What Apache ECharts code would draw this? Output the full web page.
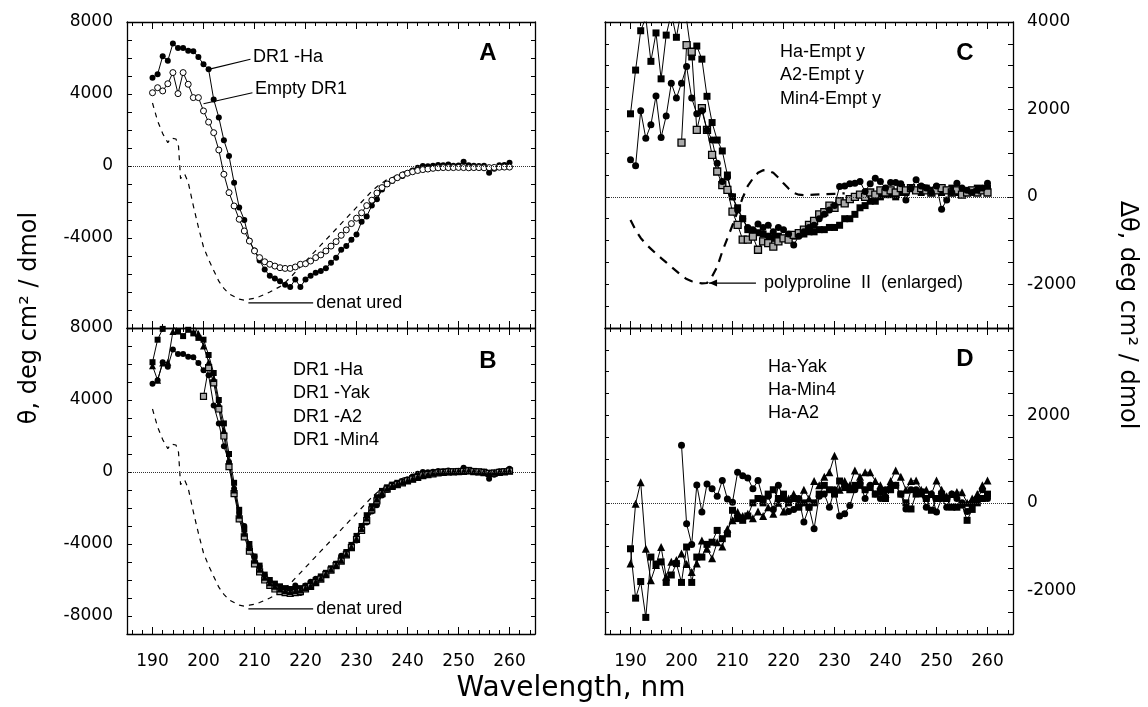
<!DOCTYPE html>
<html><head><meta charset="utf-8">
<script src="https://cdn.jsdelivr.net/npm/echarts@6/dist/echarts.min.js"></script>
<style>html,body{margin:0;padding:0;background:#fff}#c{width:1148px;height:707px}</style>
</head><body><div id="c"></div>
<script>
// ---------------- data ----------------
const wavelength = [190,191,192,193,194,195,196,197,198,199,200,201,202,203,204,205,206,207,208,209,210,211,212,213,214,215,216,217,218,219,220,221,222,223,224,225,226,227,228,229,230,231,232,233,234,235,236,237,238,239,240,241,242,243,244,245,246,247,248,249,250,251,252,253,254,255,256,257,258,259,260];
const wavelengthFrom200 = [200,201,202,203,204,205,206,207,208,209,210,211,212,213,214,215,216,217,218,219,220,221,222,223,224,225,226,227,228,229,230,231,232,233,234,235,236,237,238,239,240,241,242,243,244,245,246,247,248,249,250,251,252,253,254,255,256,257,258,259,260];

// Panel A / B (theta)
const dr1Ha = [4900,5100,6100,5850,6800,6550,6550,6400,6380,6050,5650,5370,3700,2700,1430,560,-930,-2300,-3000,-4150,-4700,-5250,-5750,-6100,-6250,-6400,-6600,-6720,-6300,-6720,-6300,-6100,-5930,-5830,-5680,-5370,-5100,-4650,-4450,-4100,-3800,-3100,-2800,-2200,-1850,-1300,-1000,-830,-650,-560,-400,-250,-100,0,-20,20,60,40,80,20,30,240,40,20,0,20,-370,-150,40,60,185];
const emptyDr1 = [4070,4350,4170,4570,5190,4020,5190,4540,3800,3800,3060,2440,1850,890,-460,-1480,-2220,-2960,-3610,-4170,-4720,-5090,-5320,-5460,-5560,-5650,-5690,-5690,-5610,-5460,-5430,-5280,-5090,-4940,-4720,-4450,-4200,-3850,-3550,-3200,-2900,-2600,-2200,-1900,-1500,-1200,-1000,-800,-650,-500,-400,-320,-250,-200,-170,-130,-100,-90,-90,-90,-80,-90,-100,-90,-90,-100,-90,-80,-70,-60,-60];
const dr1Yak = [6100,7350,7950,8300,8500,7800,7550,7900,7700,7450,7350,6500,5500,4000,2700,1000,-600,-2100,-3200,-4000,-4700,-5200,-5700,-6000,-6200,-6350,-6450,-6500,-6500,-6450,-6350,-6200,-6000,-5800,-5600,-5350,-5100,-4800,-4450,-4050,-3550,-3000,-2400,-1900,-1400,-1050,-850,-700,-600,-520,-450,-330,-220,-130,-80,-40,0,20,30,40,60,80,120,60,40,20,-60,-40,0,40,100];
const dr1A2 = [4200,5800,4950,3500,2000,300,-1200,-2600,-3600,-4400,-5100,-5550,-6000,-6300,-6500,-6650,-6700,-6750,-6700,-6650,-6500,-6350,-6150,-5950,-5700,-5450,-5200,-4950,-4600,-4200,-3750,-3250,-2700,-2100,-1600,-1200,-950,-800,-700,-600,-500,-400,-300,-200,-150,-100,-50,-20,0,10,20,40,60,20,0,-30,-80,-60,-20,10,50];
const dr1Min4 = [5900,5100,6050,6100,7800,8600,8800,8500,8200,7700,7000,6100,5200,3800,2300,600,-1000,-2400,-3400,-4200,-4900,-5400,-5850,-6150,-6350,-6500,-6600,-6650,-6600,-6550,-6450,-6300,-6100,-5900,-5650,-5400,-5150,-4900,-4550,-4150,-3700,-3150,-2550,-2000,-1500,-1150,-900,-750,-650,-560,-470,-370,-270,-170,-110,-60,-20,0,20,30,50,60,90,40,20,0,-40,-20,10,30,70];
const denaturedX = [190,191,192,193,193.6,194.6,195.1,195.5,196.3,197,198,199,200,201,202,203,204,205,206,207,208,209,210,211,212,213,214,215,216,217,218,219,220,221,222,223,224,225,226,227,228,229,230,231,232,233,234,235,236,237,238,239,240,241,242,243,244];
const denaturedY = [3500,2500,1800,1300,1550,1500,1100,-700,-450,-900,-2200,-3400,-4500,-5200,-5800,-6400,-6800,-7100,-7250,-7400,-7450,-7400,-7350,-7250,-7130,-7000,-6850,-6700,-6480,-6200,-5900,-5600,-5300,-5000,-4700,-4400,-4100,-3800,-3500,-3200,-2900,-2600,-2300,-2000,-1700,-1400,-1150,-950,-750,-650,-500,-350,-250,-150,-80,-30,0];

// Panel C / D (delta theta)
const haEmpty = [1900,2900,3800,4100,3100,3750,2700,3700,4200,3650,4300,4050,3200,3450,3150,2300,1700,1300,1050,500,0,-250,-500,-750,-800,-820,-850,-900,-950,-900,-950,-900,-900,-850,-850,-800,-800,-750,-750,-700,-700,-650,-500,-500,-400,-250,-200,-100,-100,0,50,50,0,100,100,200,150,100,200,150,200,100,150,200,100,150,100,150,200,150,200];
const min4Empty = [850,710,1970,1340,1650,2310,1360,1850,2600,2260,2600,2980,2260,1900,1970,1530,1300,770,350,450,0,-300,-500,-700,-750,-620,-700,-650,-800,-700,-750,-850,-1100,-900,-800,-700,-650,-500,-400,-300,-200,235,250,300,313,350,121,300,427,350,200,330,327,300,-70,200,389,250,200,100,250,-282,-70,100,313,200,150,100,150,200,313];
const a2Empty = [1240,3470,3320,1530,2030,1530,960,580,270,160,-340,-640,-980,-980,-910,-1210,-1020,-1060,-1140,-1020,-950,-980,-870,-830,-750,-640,-550,-400,-350,-200,-250,-100,-150,-50,0,50,0,100,50,150,100,150,100,200,150,200,150,200,150,100,150,200,150,100,150,50,100,150,100,150,100];
const polyprolineX = [190,191,192,193,194,195,196,197,198,199,200,201,202,203,204,205,206,207,208,209,210,211,212,213,214,215,216,217,218,219,220,221,222,223,224,226,228,230,232];
const polyprolineY = [-530,-760,-940,-1080,-1190,-1300,-1400,-1500,-1600,-1700,-1800,-1880,-1930,-1960,-1980,-1970,-1820,-1600,-1250,-950,-650,-330,-20,250,420,550,610,600,550,440,310,190,90,50,40,50,60,70,80];
const haYak = [-1390,-20,470,-1050,-1770,-1420,-1010,-1690,-1350,-1310,-1160,-1400,-1580,-1390,-860,-1050,-1270,-900,-1000,-600,-400,-210,-300,-250,-350,-200,-300,-100,-250,0,-200,100,200,0,300,100,500,400,600,700,1080,300,500,400,740,600,700,700,500,400,200,500,740,600,300,500,510,300,300,200,510,300,150,200,250,240,0,100,200,400,510];
const haMin4 = [-1050,-2180,-1800,-2620,-1240,-1400,-1350,-1820,-1650,-1390,-1820,-1010,-1820,-1240,-1240,-950,-900,-630,-820,-710,-170,-360,-400,-300,0,100,0,200,300,100,200,0,100,-100,0,-100,0,200,400,300,200,500,350,300,400,400,300,350,200,250,100,300,400,200,0,-140,200,250,100,-170,100,200,100,-100,-100,-50,-400,-150,0,100,200];
const haA2 = [1320,-480,-950,410,-210,430,320,150,510,90,15,700,620,570,320,510,90,150,-150,400,100,-200,-150,100,-440,-100,-590,150,200,-100,300,-300,-250,-60,300,450,100,400,200,100,300,350,400,200,-140,300,300,200,-100,200,-210,100,-100,200,100,0,-200,0,100,300,100];

// tick labels
const majorTicks = [190,200,210,220,230,240,250,260];
const minorTicks = [186,188,192,194,196,198,202,204,206,208,212,214,216,218,222,224,226,228,232,234,236,238,242,244,246,248,252,254,256,258,262,264];
const thetaLabelsA = [8000,4000,0,-4000];
const thetaLabelsB = [8000,4000,0,-4000,-8000];
const deltaLabelsC = [4000,2000,0,-2000];
const deltaLabelsD = [2000,0,-2000];

// -------------- chart ---------------
const TICKFONT = 'DejaVu Sans';
const TEXTFONT = 'Liberation Sans';
const pair = (xs, ys) => xs.map((x, i) => [x, ys[i]]);

const grids = [
  {left:127, top:22, width:408, height:306},
  {left:127, top:328, width:408, height:306},
  {left:605, top:22, width:408, height:306},
  {left:605, top:328, width:408, height:306}
];
const axisLineStyle = {color:'#000', width:1.3};
const xAxes = [];
grids.forEach((g, gi) => {
  const showLab = (gi === 1 || gi === 3);
  ['bottom','top'].forEach(pos => {
    xAxes.push({gridIndex:gi, type:'value', min:185, max:265, position:pos,
      axisLine:{show:true, onZero:false, lineStyle:axisLineStyle},
      axisTick:{show:true, inside:true, length:7, customValues:majorTicks, lineStyle:{color:'#000', width:1}},
      axisLabel:{show: showLab && pos==='bottom', customValues:majorTicks, margin:19, color:'#000', fontFamily:TICKFONT, fontSize:17, formatter:v=>String(v)},
      splitLine:{show:false}});
    xAxes.push({gridIndex:gi, type:'value', min:185, max:265, position:pos,
      axisLine:{show:false, onZero:false},
      axisTick:{show:true, inside:true, length:4, customValues:minorTicks, lineStyle:{color:'#000', width:1}},
      axisLabel:{show:false, customValues:minorTicks},
      splitLine:{show:false}});
  });
});
const yAxes = [];
const thetaFmt = (labels) => v => labels.indexOf(v) >= 0 ? String(v) : '';
grids.forEach((g, gi) => {
  const isLeft = gi < 2;
  const labels = [thetaLabelsA, thetaLabelsB, deltaLabelsC, deltaLabelsD][gi];
  const common = isLeft ? {min:-9000, max:8000, interval:1000} : {min:-3000, max:4000, interval:500};
  yAxes.push(Object.assign({gridIndex:gi, type:'value', position: isLeft ? 'left' : 'right',
    axisLine:{show:true, onZero:false, lineStyle:axisLineStyle},
    axisTick:{show:true, inside:true, length:5, lineStyle:{color:'#000'}},
    axisLabel:{show:true, margin:14, color:'#000', fontFamily:TICKFONT, fontSize:17, formatter: thetaFmt(labels)},
    splitLine:{show:false}}, common));
  yAxes.push(Object.assign({gridIndex:gi, type:'value', position: isLeft ? 'right' : 'left',
    axisLine:{show:true, onZero:false, lineStyle:axisLineStyle},
    axisTick:{show:true, inside:true, length:4, lineStyle:{color:'#000'}},
    axisLabel:{show:false},
    splitLine:{show:false}}, common));
});

const zeroLine = {silent:true, symbol:'none', label:{show:false}, animation:false,
  lineStyle:{type:'dotted', color:'#333', width:1}, data:[{yAxis:0}]};

function mk(name, gi, xs, ys, sym, opts) {
  opts = opts || {};
  const s = {
    name, type:'line', xAxisIndex: gi*4, yAxisIndex: gi*2, data: pair(xs, ys),
    symbol: sym, symbolSize: opts.size || 6, clip:true, animation:false,
    lineStyle:{color:'#000', width:1},
    itemStyle: opts.open ? {color: opts.fill || '#fff', borderColor:'#000', borderWidth: opts.bw || 1} : {color:'#000'},
    emphasis:{disabled:true}, z: opts.z || 3
  };
  if (opts.zero) s.markLine = zeroLine;
  return s;
}
function dashed(name, gi, xs, ys, dash, width) {
  return {name, type:'line', xAxisIndex: gi*4, yAxisIndex: gi*2, data: pair(xs, ys),
    symbol:'none', clip:true, animation:false, smooth:false,
    lineStyle:{color:'#000', width:width, type:dash}, emphasis:{disabled:true}, z:2};
}

const series = [
  // A
  mk('DR1-Ha', 0, wavelength, dr1Ha, 'circle', {zero:true, size:6}),
  mk('Empty DR1', 0, wavelength, emptyDr1, 'circle', {open:true, size:6}),
  dashed('denatured', 0, denaturedX, denaturedY, [5,5], 1.2),
  // B
  mk('DR1-Ha', 1, wavelength, dr1Ha, 'circle', {zero:true, size:6}),
  mk('DR1-Yak', 1, wavelength, dr1Yak, 'rect', {size:6}),
  mk('DR1-A2', 1, wavelengthFrom200, dr1A2, 'rect', {open:true, fill:'#aaa', size:6, bw:1.2}),
  mk('DR1-Min4', 1, wavelength, dr1Min4, 'triangle', {size:7}),
  dashed('denatured', 1, denaturedX, denaturedY, [5,5], 1.2),
  // C
  mk('Ha-Empty', 2, wavelength, haEmpty, 'rect', {zero:true, size:7}),
  mk('A2-Empty', 2, wavelengthFrom200, a2Empty, 'rect', {open:true, fill:'#aaa', size:7, bw:1.3}),
  mk('Min4-Empty', 2, wavelength, min4Empty, 'circle', {size:7}),
  dashed('polyproline II', 2, polyprolineX, polyprolineY, [9,7], 2.2),
  // D
  mk('Ha-Yak', 3, wavelength, haYak, 'triangle', {zero:true, size:8}),
  mk('Ha-Min4', 3, wavelength, haMin4, 'rect', {size:7}),
  mk('Ha-A2', 3, wavelengthFrom200, haA2, 'circle', {size:7})
];

const chart = echarts.init(document.getElementById('c'), null, {renderer:'canvas'});
chart.setOption({
  backgroundColor:'#fff', animation:false,
  grid: grids, xAxis: xAxes, yAxis: yAxes, series
});

// annotation anchors in data units: [seriesIndex, x1, y1, x2, y2]
const leaders = [
  [0, 201, 5370, 209.2, 5930],
  [0, 200, 3460, 209.6, 4070],
  [0, 208.8, -7600, 221.5, -7600],
  [3, 208.8, -7600, 221.5, -7600],
  [8, 205.4, -1973, 214.6, -1973]
];
const P = (si, x, y) => chart.convertToPixel({seriesIndex: si}, [x, y]);
const graphics = [];
leaders.forEach((l, i) => {
  const a = P(l[0], l[1], l[2]), b = P(l[0], l[3], l[4]);
  graphics.push({type:'line', shape:{x1:a[0], y1:a[1], x2:b[0], y2:b[1]}, style:{stroke:'#000', lineWidth:1.2}, silent:true});
  if (i === 4) {
    graphics.push({type:'polygon', shape:{points:[[a[0], a[1]], [a[0]+8, a[1]-3.5], [a[0]+8, a[1]+3.5]]}, style:{fill:'#000'}, silent:true});
  }
});
const txt = (x, y, text, size, opts) => Object.assign({type:'text', x, y, silent:true,
  style:{text, fill:'#000', font: (opts && opts.bold ? 'bold ' : '') + size + 'px "' + ((opts && opts.font) || TEXTFONT) + '"',
  textAlign:(opts && opts.align) || 'left', textVerticalAlign:'middle'}}, (opts && opts.extra) || {});
const ptxt = (si, x, y, text, size) => { const p = P(si, x, y); return txt(p[0] + 3, p[1], text, size); };
graphics.push(
  txt(253, 57, 'DR1 -Ha', 18),
  txt(255, 89, 'Empty DR1', 18),
  ptxt(0, 221.5, -7600, 'denat ured', 18),
  ptxt(3, 221.5, -7600, 'denat ured', 18),
  txt(293, 370, 'DR1 -Ha', 18),
  txt(293, 393.5, 'DR1 -Yak', 18),
  txt(293, 417, 'DR1 -A2', 18),
  txt(293, 440.5, 'DR1 -Min4', 18),
  txt(780, 52, 'Ha-Empt y', 18),
  txt(780, 75.5, 'A2-Empt y', 18),
  txt(780, 99, 'Min4-Empt y', 18),
  ptxt(8, 214.6, -1973, ' polyproline  II  (enlarged)', 18),
  txt(768, 367, 'Ha-Yak', 18),
  txt(768, 390, 'Ha-Min4', 18),
  txt(768, 413, 'Ha-A2', 18),
  txt(488, 53, 'A', 24, {bold:true, align:'center'}),
  txt(488, 361, 'B', 24, {bold:true, align:'center'}),
  txt(965, 53, 'C', 24, {bold:true, align:'center'}),
  txt(965, 359, 'D', 24, {bold:true, align:'center'}),
  txt(571, 689, 'Wavelength, nm', 28, {align:'center', font:'DejaVu Sans'}),
  {type:'text', x:30, y:318, rotation:Math.PI/2, silent:true,
   style:{text:'θ, deg cm² / dmol', fill:'#000', font:'24px "DejaVu Sans"', textAlign:'center', textVerticalAlign:'middle'}},
  {type:'text', x:1127, y:315, rotation:-Math.PI/2, silent:true,
   style:{text:'Δθ, deg cm² / dmol', fill:'#000', font:'24px "DejaVu Sans"', textAlign:'center', textVerticalAlign:'middle'}}
);
chart.setOption({graphic: graphics});
</script>
</body></html>
